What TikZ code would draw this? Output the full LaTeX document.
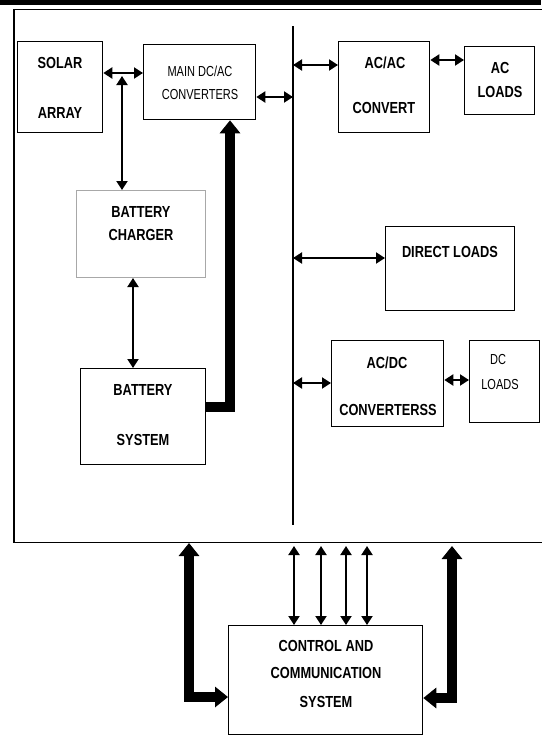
\documentclass[tikz,border=0pt]{standalone}
\usepackage{fontspec}
\setmainfont{Liberation Sans}
\newfontfamily\bfnt{Liberation Sans}[FakeStretch=0.8]
\newfontfamily\rfnt{Liberation Sans}[FakeStretch=0.76]
\usetikzlibrary{arrows.meta}
\definecolor{chgray}{HTML}{A8A8A8}
\begin{document}
\begin{tikzpicture}[x=1pt,y=-1pt,
  box/.style={draw, line width=1.3pt, inner sep=0pt, anchor=north west},
  graybox/.style={box, draw=chgray, line width=1pt},
  tb/.style={font=\bfnt\bfseries\fontsize{16}{18}\selectfont, inner sep=0pt},
  tr/.style={font=\rfnt\fontsize{14.5}{16}\selectfont, inner sep=0pt},
  dbl/.style={line width=2pt, {Triangle[width=11pt,length=9pt]}-{Triangle[width=11pt,length=9pt]}},
  thk/.style={line width=10pt, line join=miter, -{Triangle[width=20pt,length=13pt]}},
  thkd/.style={line width=10pt, line join=miter, {Triangle[width=20pt,length=13pt]}-{Triangle[width=20pt,length=13pt]}}
]
\useasboundingbox (0,0) rectangle (541,736);
\fill[white] (0,0) rectangle (541,736);
% top rule
\fill[black] (0,0) rectangle (541,5);
% outer frame
\node[box, line width=1.6pt, minimum width=530, minimum height=533] (outer) at (13,8.5) {};

% boxes
\node[box, minimum width=85, minimum height=91] (solar) at (17,41) {};
\node[box, minimum width=112, minimum height=75] (main) at (143,44) {};
\node[graybox, minimum width=129, minimum height=87] (chg) at (76,190) {};
\node[box, minimum width=125, minimum height=96] (bsys) at (80,368) {};
\node[box, minimum width=91, minimum height=91] (acac) at (338,41) {};
\node[box, minimum width=70, minimum height=68] (acl) at (464,46) {};
\node[box, minimum width=129, minimum height=84] (dl) at (385,226) {};
\node[box, minimum width=112, minimum height=86] (acdc) at (331,340) {};
\node[box, minimum width=70, minimum height=82] (dcl) at (469,340) {};
\node[box, minimum width=194, minimum height=109] (ctrl) at (228,625) {};

% texts
\node[tb] (t1) at (60,63) {SOLAR};
\node[tb] (t2) at (60,113) {ARRAY};
\node[tr] (t3) at (200,71) {MAIN DC/AC};
\node[tr] (t4) at (200,95) {CONVERTERS};
\node[tb] (t5) at (141,212) {BATTERY};
\node[tb] (t6) at (141,235) {CHARGER};
\node[tb] (t7) at (143,390) {BATTERY};
\node[tb] (t8) at (143,440) {SYSTEM};
\node[tb] (t9) at (385,63) {AC/AC};
\node[tb] (t10) at (384,108) {CONVERT};
\node[tb] (t11) at (500,68) {AC};
\node[tb] (t12) at (500,92) {LOADS};
\node[tb] (t13) at (450,252) {DIRECT LOADS};
\node[tb] (t14) at (387,363) {AC/DC};
\node[tb] (t15) at (388,410) {CONVERTERSS};
\node[tr] (t16) at (498,360) {DC};
\node[tr] (t17) at (500,385) {LOADS};
\node[tb] (t18) at (326,646) {CONTROL AND};
\node[tb] (t19) at (326,673) {COMMUNICATION};
\node[tb] (t20) at (326,702) {SYSTEM};

% bus
\coordinate (bustop) at (293,26);
\coordinate (busbot) at (293,525);
\draw[line width=2pt] (bustop) -- (busbot);

% thin double arrows
\draw[dbl] (solar.east |- 0,73) -- (main.west |- 0,73);
\coordinate (jn) at (122,76);
\draw[dbl] (jn) -- (jn |- chg.north);
\coordinate (cb) at (133,0);
\draw[dbl] (cb |- chg.south) -- (cb |- bsys.north);
\draw[dbl] (main.east |- 0,97) -- (bustop |- 0,97);
\draw[dbl] (bustop |- 0,65) -- (acac.west |- 0,65);
\draw[dbl] (acac.east |- 0,60) -- (acl.west |- 0,60);
\draw[dbl] (bustop |- 0,258) -- (dl.west |- 0,258);
\draw[dbl] (bustop |- 0,383) -- (acdc.west |- 0,383);
\draw[dbl] (acdc.east |- 0,380) -- (dcl.west |- 0,380);

% control verticals
\coordinate (v1) at (294,546);
\coordinate (v2) at (321,546);
\coordinate (v3) at (346,546);
\coordinate (v4) at (367,546);
\draw[dbl] (v1) -- (v1 |- ctrl.north);
\draw[dbl] (v2) -- (v2 |- ctrl.north);
\draw[dbl] (v3) -- (v3 |- ctrl.north);
\draw[dbl] (v4) -- (v4 |- ctrl.north);

% thick arrows
\draw[thk] (bsys.east |- 0,407) -| (main.south -| 230,0);
\coordinate (tl) at (189,543);
\coordinate (tr) at (452,546);
\draw[thkd] (tl) |- (ctrl.west |- 0,697);
\draw[thkd] (tr) |- (ctrl.east |- 0,698);
\end{tikzpicture}
\end{document}
